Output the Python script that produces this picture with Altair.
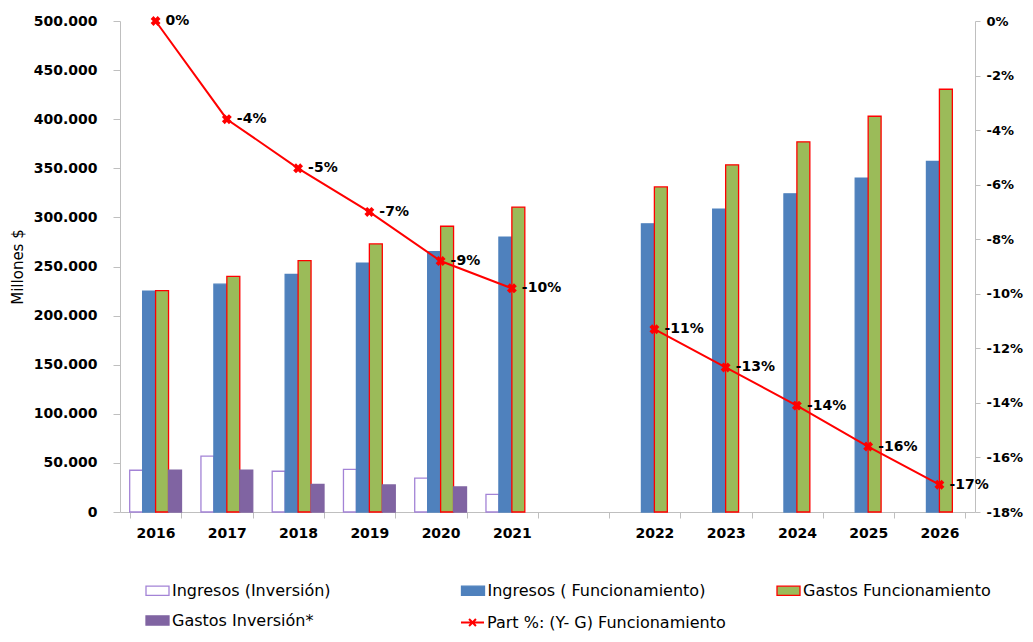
import altair as alt
import pandas as pd

# ---------------- data ----------------
years = ["2016", "2017", "2018", "2019", "2020", "2021",
         "2022", "2023", "2024", "2025", "2026"]
x_domain = years[:6] + [" "] + years[6:]

series = ["Ingresos (Inversión)", "Ingresos ( Funcionamiento)",
          "Gastos Funcionamiento", "Gastos Inversión*"]

ingresos_inversion = [42500, 57000, 41500, 43500, 34500, 18000,
                      None, None, None, None, None]
ingresos_funcionamiento = [225000, 232000, 242000, 253500, 265000, 280000,
                           293500, 308500, 324000, 340000, 357000]
gastos_funcionamiento = [225500, 240000, 256000, 273000, 291000, 310500,
                         331000, 353500, 377000, 403000, 430500]
gastos_inversion = [42500, 42500, 28000, 27500, 25500, None,
                    None, None, None, None, None]

part_funcionamiento = [0, -3.6, -5.4, -7.0, -8.8, -9.8,
                       -11.3, -12.7, -14.1, -15.6, -17.0]
line_name = "Part %: (Y- G) Funcionamiento"

fill_colors = ["#FFFFFF", "#4F81BD", "#9BBB59", "#8064A2"]
stroke_colors = ["#A383D6", "#4F81BD", "#FF0000", "#8064A2"]
line_color = "#FF0000"

# ---------------- tables ----------------
rows = []
for s, vals in zip(series, [ingresos_inversion, ingresos_funcionamiento,
                            gastos_funcionamiento, gastos_inversion]):
    for y, v in zip(years, vals):
        if v is not None:
            rows.append({"year": y, "series": s, "value": v})
bars_df = pd.DataFrame(rows)

line_df = pd.DataFrame({
    "year": years,
    "part": part_funcionamiento,
    "seg": ["a" if int(y) <= 2021 else "b" for y in years],
    "name": [line_name] * len(years),
})

FONT = "DejaVu Sans"
AXIS_GRAY = "#BFBFBF"

x_scale = alt.Scale(domain=x_domain, paddingInner=0.273, paddingOuter=0.136)
y2_scale = alt.Scale(domain=[-18, 0], nice=False)

y2_axis = alt.Axis(title=None, orient="right",
                   values=list(range(0, -19, -2)),
                   labelExpr="datum.value + '%'",
                   domainColor=AXIS_GRAY, tickColor=AXIS_GRAY,
                   tickSize=5, labelPadding=6, labelFont=FONT,
                   labelFontWeight="bold", labelFontSize=13,
                   labelColor="black", grid=False)

rect_path = "M-1,-0.4H1V0.4H-1Z"
line_path = "M-1,0H1M-0.3,-0.3L0.3,0.3M-0.3,0.3L0.3,-0.3"

bar_legend = alt.Legend(
    title=None, orient="none", legendX=25, legendY=557,
    direction="horizontal", columns=3, gridAlign="all",
    columnPadding=68.5, rowPadding=9, labelLimit=500,
    symbolType=rect_path, symbolSize=529, symbolStrokeWidth=1.3,
    labelFont=FONT, labelFontSize=16, labelColor="black", labelOffset=2,
)

bars = alt.Chart(bars_df).mark_bar(strokeWidth=1.3).encode(
    x=alt.X("year:N", scale=x_scale, sort=x_domain,
            axis=alt.Axis(title=None, labelAngle=0, tickBand="extent",
                          domainColor=AXIS_GRAY, tickColor=AXIS_GRAY,
                          tickSize=6, labelPadding=8, labelFont=FONT,
                          labelFontWeight="bold", labelFontSize=14,
                          labelColor="black")),
    xOffset=alt.XOffset("series:N", sort=series,
                        scale=alt.Scale(domain=series, paddingInner=0,
                                        paddingOuter=0)),
    y=alt.Y("value:Q", scale=alt.Scale(domain=[0, 500000], nice=False),
            axis=alt.Axis(title="Millones $", values=list(range(0, 500001, 50000)),
                          labelExpr="replace(format(datum.value, ',.0f'), ',', '.')",
                          domainColor=AXIS_GRAY, tickColor=AXIS_GRAY,
                          tickSize=7, labelPadding=16, labelFont=FONT,
                          labelFontWeight="bold", labelFontSize=14,
                          labelColor="black", titleFont=FONT,
                          titleFontSize=15, titleFontWeight="normal",
                          titleColor="black", titlePadding=8, grid=False)),
    fill=alt.Fill("series:N", scale=alt.Scale(domain=series, range=fill_colors),
                  legend=bar_legend),
    stroke=alt.Stroke("series:N", scale=alt.Scale(domain=series, range=stroke_colors),
                      legend=bar_legend),
)

line = alt.Chart(line_df).mark_line(strokeWidth=2).encode(
    x=alt.X("year:N", scale=x_scale, sort=x_domain),
    y=alt.Y("part:Q", scale=y2_scale, axis=y2_axis),
    detail="seg:N",
    color=alt.Color("name:N", scale=alt.Scale(domain=[line_name], range=[line_color]),
                    legend=alt.Legend(title=None, orient="none", legendX=340,
                                      legendY=589, symbolType=line_path,
                                      symbolSize=529, symbolStrokeWidth=2,
                                      labelLimit=500,
                                      labelFont=FONT, labelFontSize=16,
                                      labelColor="black", labelOffset=2)),
)

points = alt.Chart(line_df).mark_point(
    shape="cross", angle=45, filled=True, size=100, color=line_color, opacity=1
).encode(
    x=alt.X("year:N", scale=x_scale, sort=x_domain),
    y=alt.Y("part:Q", scale=y2_scale, axis=y2_axis),
)

labels = alt.Chart(line_df).transform_calculate(
    label="round(datum.part) + '%'"
).mark_text(
    align="left", baseline="middle", dx=10, font=FONT, fontWeight="bold",
    fontSize=14, color="black"
).encode(
    x=alt.X("year:N", scale=x_scale, sort=x_domain),
    y=alt.Y("part:Q", scale=y2_scale, axis=y2_axis),
    text="label:N",
)

right = alt.layer(line, points, labels)

chart = alt.layer(bars, right).resolve_scale(y="independent").properties(
    width=855, height=491,
    autosize=alt.AutoSizeParams(type="none"),
    padding={"left": 112, "top": 13, "right": 50, "bottom": 122},
).configure_view(stroke=None).configure_axis(grid=False)

chart.save("out.html", embed_options={"renderer": "svg", "actions": False})
